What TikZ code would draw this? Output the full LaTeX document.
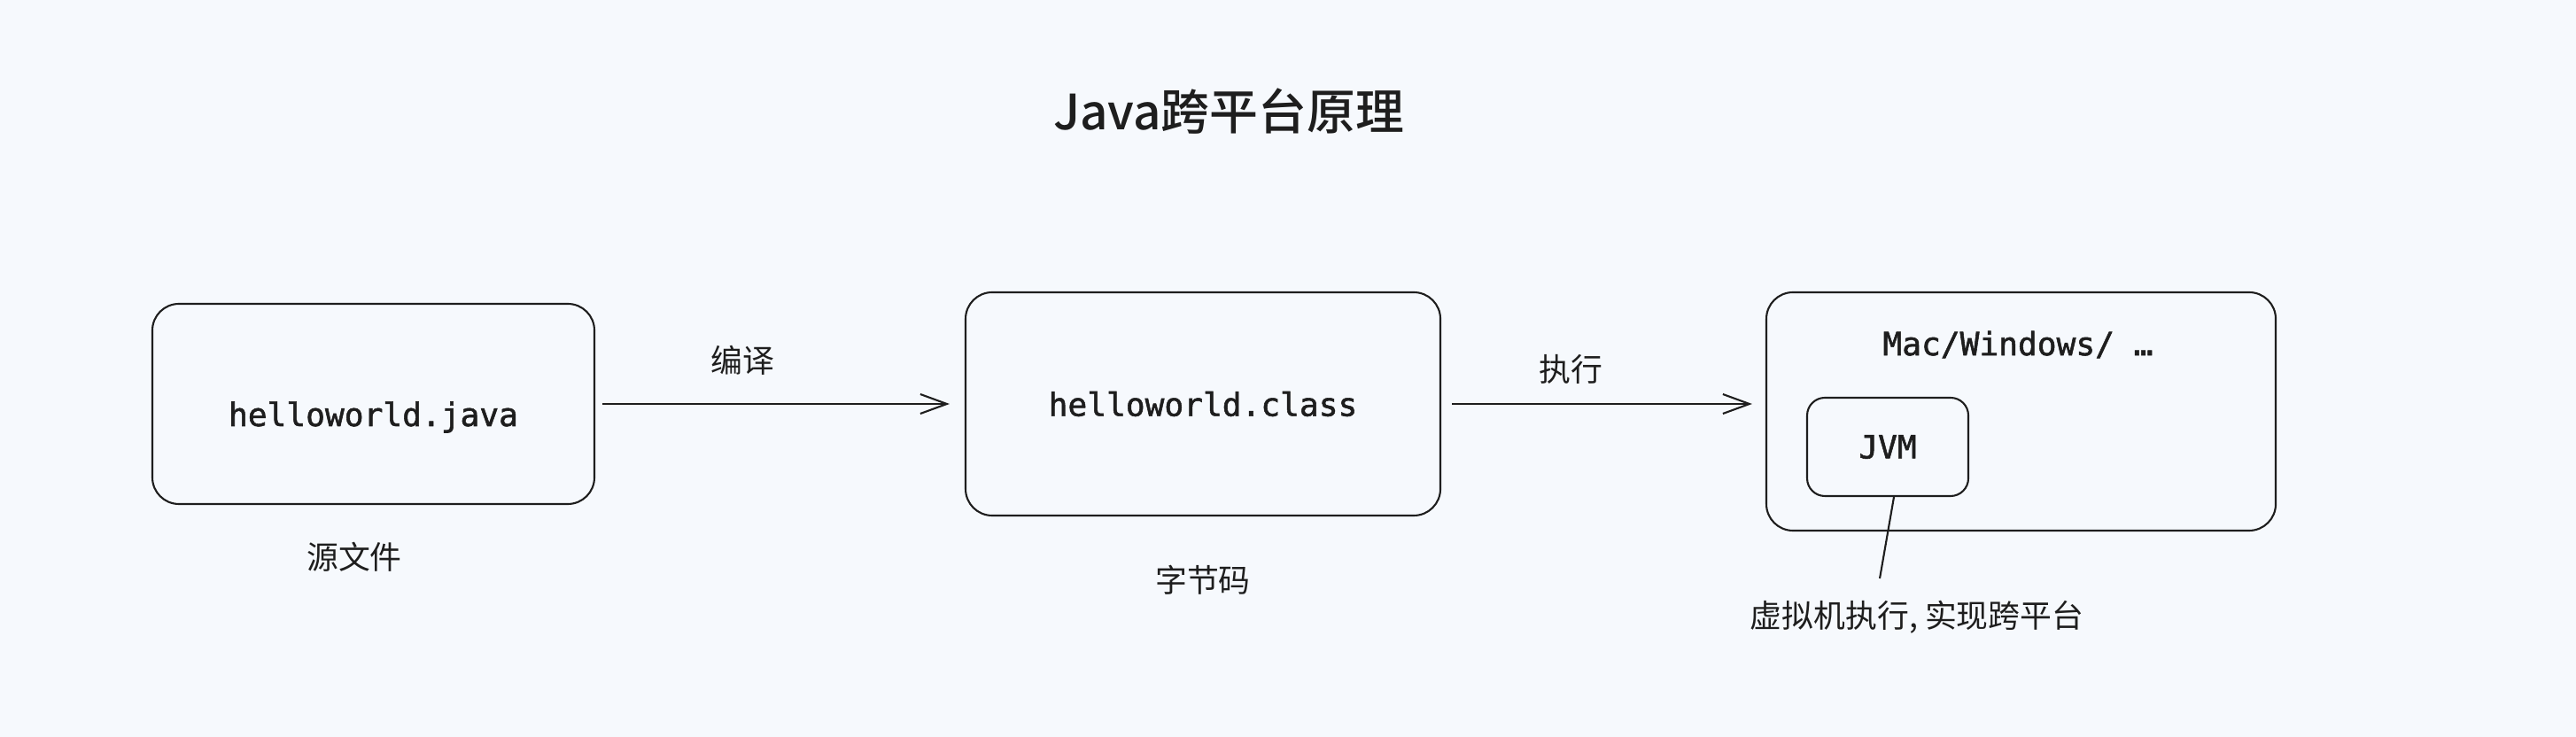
\documentclass[tikz,border=0pt]{standalone}
\usepackage{fontspec}
\setmainfont{Noto Sans CJK SC}
\newfontfamily\titlefont{Noto Sans CJK SC Medium}
\newfontfamily\codefont{DejaVu Sans Mono}[FakeBold=1.5]
\usetikzlibrary{arrows.meta}
\definecolor{bgpaper}{RGB}{246,249,253}
\definecolor{ink}{RGB}{30,30,30}

\begin{document}
\begin{tikzpicture}[
    code/.style={font=\codefont\fontsize{10.3}{12}\selectfont, text=ink},
    box/.style={code, draw=ink, line width=0.6pt, rounded corners=0.3cm},
    lbl/.style={font=\fontsize{10.2}{12}\selectfont, text=ink},
    arr/.style={draw=ink, line width=0.6pt, -{Straight Barb[length=0.3cm, width=0.22cm]}}]
        \fill[bgpaper] (0,0) rectangle (29.08,8.32);
        \useasboundingbox (0,0) rectangle (29.08,8.32);

        \node[lbl, font=\titlefont\fontsize{15.6}{18}\selectfont] (title) at (13.87,7.06) {Java跨平台原理};

        \node[box, minimum width=4.99cm, minimum height=2.26cm, text height=0.6cm, text depth=0.1cm] (java) at (4.215,3.76) {helloworld.java};
        \node[box, minimum width=5.36cm, minimum height=2.52cm] (class) at (13.58,3.76) {helloworld.class};
        \node[box, minimum width=5.75cm, minimum height=2.69cm] (os) at (22.815,3.675) {};
        \node[code] (osname) at (22.78,4.43) {Mac/Windows/ …};
        \node[box, rounded corners=0.2cm, minimum width=1.82cm, minimum height=1.11cm] (jvm) at (21.31,3.275) {JVM};

        \node[lbl] (srcname) at (4.00,2.03) {源文件};
        \node[lbl] (bytename) at (13.58,1.77) {字节码};
        \node[lbl] (note) at (21.64,1.35) {虚拟机执行, 实现跨平台};
        \coordinate (tip) at (21.22,1.79);

        \draw[arr, shorten <=0.08cm, shorten >=0.17cm] (java) to node[lbl, pos=0.4, above=0.2cm] (compile) {编译} (class);
        \draw[arr, shorten <=0.12cm, shorten >=0.15cm] (class.east) to node[lbl, pos=0.4, above=0.1cm] (run) {执行} (class.east -| os.west);
        \draw[ink, line width=0.6pt] ([xshift=0.07cm]jvm.south) -- (tip);
      \end{tikzpicture}
\end{document}
